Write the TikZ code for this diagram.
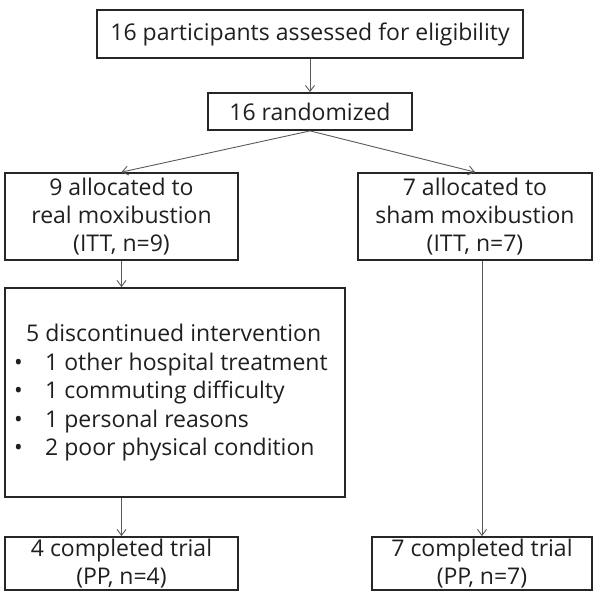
\documentclass[tikz,border=0pt]{standalone}
\usepackage{fontspec}
\setmainfont{Open Sans}
\usetikzlibrary{arrows.meta}
\begin{document}
\begin{tikzpicture}[x=1pt,y=-1pt,
  box/.style={draw=black!85,line width=1.8pt,inner sep=0pt,align=center,text=black!88,font=\fontsize{23}{28}\selectfont},
  conn/.style={draw=black!65,line width=0.9pt,-{Straight Barb[length=6pt,width=9pt]}}]
\useasboundingbox (0,0) rectangle (597,592);
\node[box,minimum width=426pt,minimum height=48pt] (b1) at (310,34) {16 participants assessed for eligibility};
\node[box,minimum width=204pt,minimum height=37pt] (b2) at (310,111.5) {16 randomized};
\node[box,minimum width=233pt,minimum height=87pt] (b3) at (121.5,216.5) {9 allocated to\\real moxibustion\\(ITT, n=9)};
\node[box,minimum width=234pt,minimum height=87pt] (b4) at (475,216.5) {7 allocated to\\sham moxibustion\\(ITT, n=7)};
\node[box,minimum width=340pt,minimum height=209pt] (b5) at (175,392.5) {};
\node[inner sep=0pt,anchor=west,align=left,text=black!88,font=\fontsize{23}{28.5}\selectfont] (b5t) at (14,393)
  {\hspace*{12pt}5 discontinued intervention\\
   \makebox[31pt][l]{•}1 other hospital treatment\\
   \makebox[31pt][l]{•}1 commuting difficulty\\
   \makebox[31pt][l]{•}1 personal reasons\\
   \makebox[31pt][l]{•}2 poor physical condition};
\node[box,minimum width=233pt,minimum height=53pt] (b6) at (121.5,563.5) {4 completed trial\\(PP, n=4)};
\node[box,minimum width=220pt,minimum height=53pt] (b7) at (482,563.5) {7 completed trial\\(PP, n=7)};
\draw[conn] (b1.south) -- (b2.north);
\draw[conn] (b2.south) -- (b3.north);
\draw[conn] (b2.south) -- (b4.north);
\draw[conn] (b3.south) -- (b3.south |- b5.north);
\draw[conn] (b6.north |- b5.south) -- (b6.north);
\draw[conn] (b7.north |- b4.south) -- (b7.north);
\end{tikzpicture}
\end{document}
